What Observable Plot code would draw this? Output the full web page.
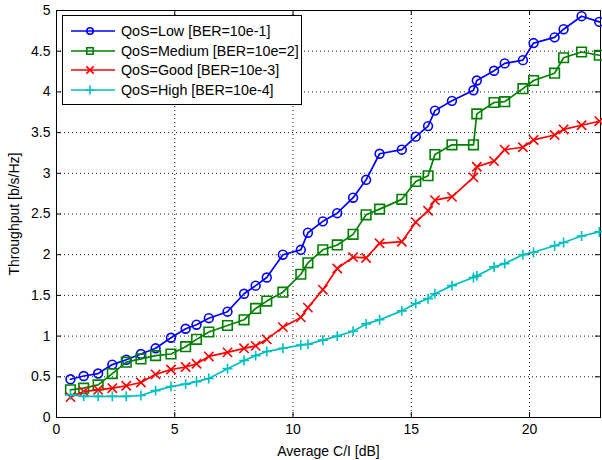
<!DOCTYPE html>
<html><head><meta charset="utf-8">
<script src="https://cdn.jsdelivr.net/npm/d3@7"></script>
<script src="https://cdn.jsdelivr.net/npm/@observablehq/plot@0.6"></script>
<style>
body{margin:0;background:#fff;}
#wrap{position:relative;width:602px;height:460px;font-family:"Liberation Sans",Arial,sans-serif;}
#legend{position:absolute;left:62px;top:15px;width:240px;height:90px;border:1px solid #000;background:#fff;box-sizing:border-box;}
#legend .row{position:absolute;left:0;height:20px;display:flex;align-items:center;font-size:14.3px;color:#000;white-space:nowrap;}
</style></head><body><div id="wrap"></div>
<script>
const avgCI = [0.59, 1.15, 1.76, 2.36, 2.95, 3.57, 4.19, 4.84, 5.46, 5.92, 6.44, 7.23, 7.93, 8.42, 8.89, 9.57, 10.33, 10.63, 11.26, 11.87, 12.54, 13.09, 13.66, 14.6, 15.19, 15.71, 16.0, 16.72, 17.63, 17.77, 18.5, 18.95, 19.72, 20.17, 21.06, 21.44, 22.2, 22.95];
const qosLow = [0.47, 0.51, 0.54, 0.65, 0.71, 0.78, 0.85, 0.98, 1.09, 1.14, 1.22, 1.30, 1.52, 1.62, 1.72, 2.00, 2.06, 2.27, 2.41, 2.51, 2.70, 2.92, 3.24, 3.29, 3.45, 3.58, 3.77, 3.89, 4.02, 4.14, 4.26, 4.35, 4.39, 4.60, 4.67, 4.77, 4.93, 4.86];
const qosMedium = [0.34, 0.36, 0.40, 0.54, 0.68, 0.72, 0.76, 0.78, 0.87, 0.96, 1.05, 1.13, 1.20, 1.34, 1.43, 1.54, 1.76, 1.90, 2.06, 2.12, 2.25, 2.49, 2.56, 2.68, 2.90, 2.97, 3.23, 3.35, 3.35, 3.73, 3.87, 3.88, 4.04, 4.14, 4.23, 4.42, 4.49, 4.45];
const qosGood = [0.25, 0.32, 0.34, 0.36, 0.39, 0.43, 0.53, 0.59, 0.62, 0.66, 0.75, 0.80, 0.85, 0.88, 0.96, 1.11, 1.23, 1.35, 1.57, 1.83, 1.97, 1.96, 2.14, 2.16, 2.40, 2.54, 2.67, 2.71, 2.95, 3.08, 3.15, 3.29, 3.32, 3.41, 3.47, 3.54, 3.59, 3.64];
const qosHigh = [0.28, 0.26, 0.26, 0.26, 0.26, 0.27, 0.33, 0.38, 0.41, 0.44, 0.48, 0.60, 0.70, 0.76, 0.81, 0.85, 0.89, 0.90, 0.95, 1.00, 1.06, 1.15, 1.20, 1.31, 1.40, 1.46, 1.52, 1.62, 1.72, 1.74, 1.85, 1.89, 2.00, 2.03, 2.11, 2.15, 2.23, 2.28];
const seriesNames = ["QoS=Low [BER=10e-1]", "QoS=Medium [BER=10e=2]", "QoS=Good [BER=10e-3]", "QoS=High [BER=10e-4]"];
const seriesColors = ["#0000ff", "#008000", "#ff0000", "#00bfbf"];
const seriesSymbols = ["circle", "square", "times", "plus"];
const seriesR = [4.4, 5.4, 4.3, 3.3];
const legendR = [3.2, 3.6, 3.4, 3.0];
const xTicks = [0, 5, 10, 15, 20];
const yTicks = [0, 0.5, 1, 1.5, 2, 2.5, 3, 3.5, 4, 4.5, 5];
const xLabel = "Average C/I [dB]";
const yLabel = "Throughput [b/s/Hz]";

const allSeries = [qosLow, qosMedium, qosGood, qosHigh];
const d3Symbols = {circle: d3.symbolCircle, square: d3.symbolSquare, times: d3.symbolTimes, plus: d3.symbolPlus};
const W = 602, H = 460, mL = 56, mR = 2, mT = 10, mB = 43;
const fw = W - mL - mR, fh = H - mT - mB, tl = 5;
const dotted = {stroke: "#000", strokeOpacity: 0.9, strokeWidth: 1, strokeDasharray: "1,3"};

const marks = [
  Plot.gridX(xTicks, dotted),
  Plot.gridY(yTicks, dotted),
  Plot.tickX(xTicks, {x: d => d, insetTop: fh - tl, stroke: "#000"}),
  Plot.tickX(xTicks, {x: d => d, insetBottom: fh - tl, stroke: "#000"}),
  Plot.tickY(yTicks, {y: d => d, insetRight: fw - tl, stroke: "#000"}),
  Plot.tickY(yTicks, {y: d => d, insetLeft: fw - tl, stroke: "#000"}),
  Plot.frame({stroke: "#000"}),
  Plot.axisX({ticks: xTicks, tickSize: 0, tickPadding: 7, tickFormat: d => String(d), fontSize: 14,
    label: xLabel, labelAnchor: "center", labelArrow: "none", labelOffset: 38}),
  Plot.axisY({ticks: yTicks, tickSize: 0, tickPadding: 6, tickFormat: d => String(d), fontSize: 14,
    label: yLabel, labelAnchor: "center", labelArrow: "none", labelOffset: 47})
];
allSeries.forEach((vals, s) => {
  const data = vals.map((v, i) => ({x: avgCI[i], y: v}));
  marks.push(Plot.line(data, {x: "x", y: "y", stroke: seriesColors[s], strokeWidth: 1.7}));
  marks.push(Plot.dot(data, {x: "x", y: "y", symbol: seriesSymbols[s], r: seriesR[s], stroke: seriesColors[s], fill: "none", strokeWidth: 1.6}));
});

const chart = Plot.plot({
  width: W, height: H, marginLeft: mL, marginRight: mR, marginTop: mT, marginBottom: mB,
  x: {domain: [0, 23]}, y: {domain: [0, 5]},
  style: {fontFamily: "'Liberation Sans', Arial, sans-serif", fontSize: "14px", color: "#000", background: "#fff"},
  marks
});
const wrap = document.getElementById("wrap");
wrap.appendChild(chart);

// legend
const leg = document.createElement("div");
leg.id = "legend";
seriesNames.forEach((name, s) => {
  const row = document.createElement("div");
  row.className = "row";
  row.style.top = (5 + s * 19.7) + "px";
  const svg = d3.create("svg").attr("width", 58).attr("height", 20).style("display", "block");
  svg.append("line").attr("x1", 8).attr("x2", 52).attr("y1", 10).attr("y2", 10)
    .attr("stroke", seriesColors[s]).attr("stroke-width", 1.7);
  const sym = d3.symbol(d3Symbols[seriesSymbols[s]], Math.PI * legendR[s] * legendR[s]);
  svg.append("path").attr("d", sym()).attr("transform", "translate(27,10)")
    .attr("fill", "none").attr("stroke", seriesColors[s]).attr("stroke-width", 1.6);
  row.appendChild(svg.node());
  const t = document.createElement("span");
  t.textContent = name;
  row.appendChild(t);
  leg.appendChild(row);
});
wrap.appendChild(leg);
</script></body></html>
